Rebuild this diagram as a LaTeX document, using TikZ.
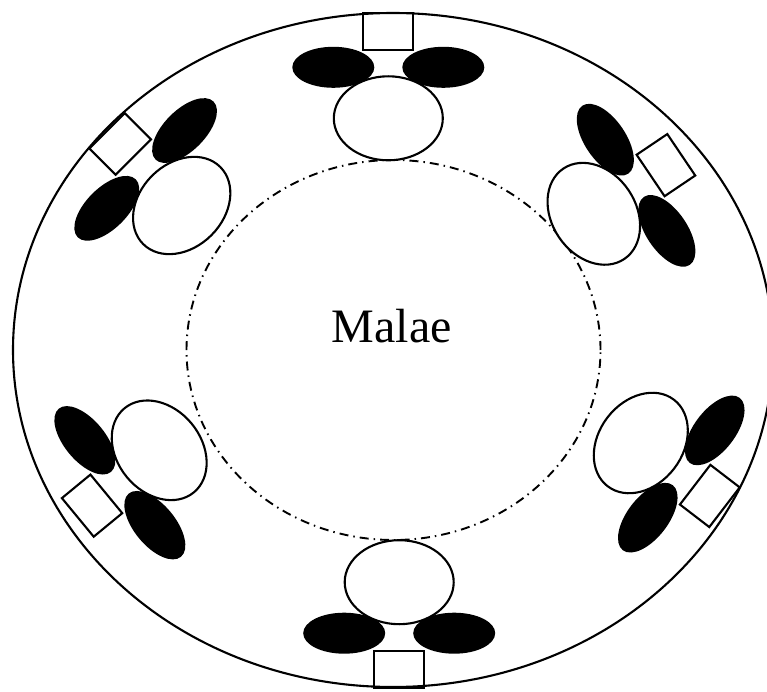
\documentclass[tikz,border=0pt]{standalone}
\usepackage{fontspec}
\setmainfont{Liberation Serif}
\tikzset{
  solidline/.style={draw=black, line width=2.1pt},
  whiteov/.style={draw=black, fill=white, line width=2.1pt},
  blackov/.style={fill=black},
  boxshape/.style={draw=black, line width=2.1pt},
  dashdotline/.style={draw=black, line width=1.9pt, dash pattern=on 9pt off 5pt on 1.5pt off 5pt},
}
\newcommand\malgroup[3]{%
  \begin{scope}[shift={(#1,#2)}, rotate=#3-90]
    \fill[blackov] (-55,51) ellipse [x radius=41, y radius=20.5];
    \fill[blackov] (55,51) ellipse [x radius=41, y radius=20.5];
    \draw[whiteov] (0,0) ellipse [x radius=54.5, y radius=42];
    \draw[boxshape] (-25,68.5) rectangle (25,105.5);
  \end{scope}}
\begin{document}
\begin{tikzpicture}[x=1pt,y=1pt]
  \useasboundingbox (0,0) rectangle (767,691);
  \clip (0,0) rectangle (767,691);
  \draw[solidline] (393,341) ellipse [x radius=380, y radius=337];
  \draw[dashdotline] (393.5,341) ellipse [x radius=207, y radius=190];
  \malgroup{388.3}{572.7}{90}
  \malgroup{593.8}{477.2}{34}
  \malgroup{640.8}{248}{-37.5}
  \malgroup{399.2}{108.8}{-90}
  \malgroup{159.2}{240.7}{219.5}
  \malgroup{181.7}{485.5}{135}
  \node[font=\fontsize{48}{58}\selectfont, anchor=base, inner sep=0pt] (malae) at (391.7,348) {Malae};
\end{tikzpicture}
\end{document}
